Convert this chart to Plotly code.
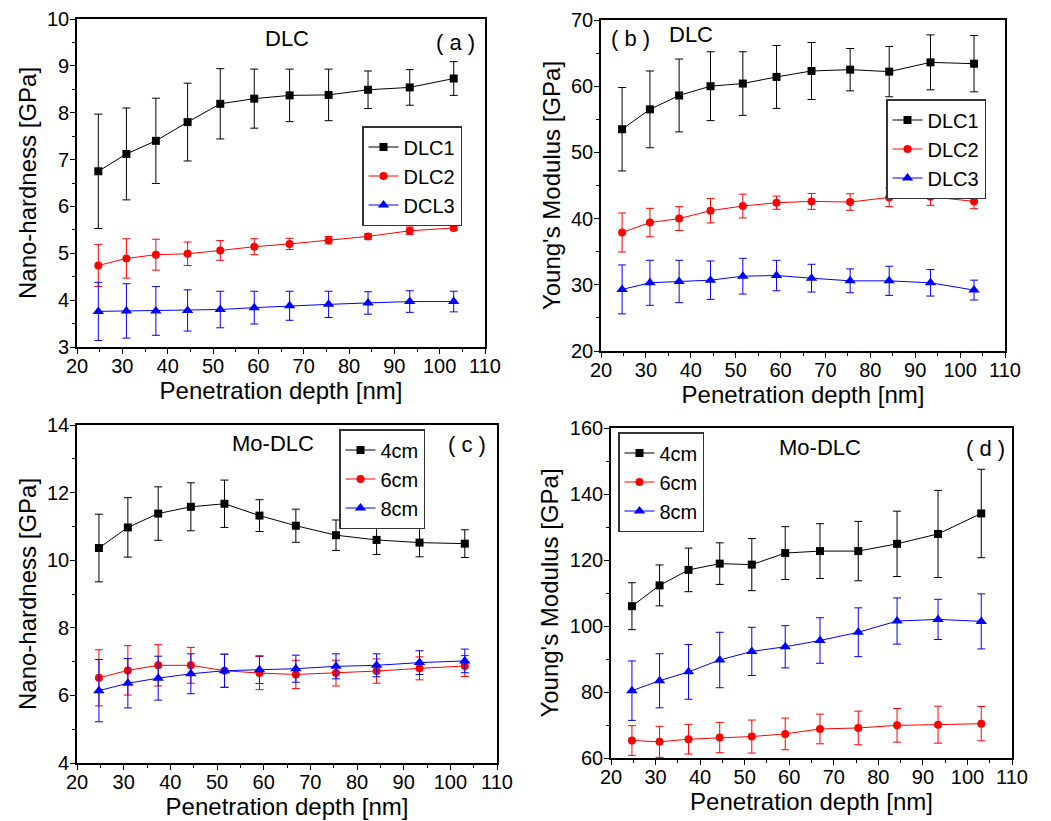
import plotly.graph_objects as go

depth = [24.7, 30.9, 37.4, 44.4, 51.6, 59.1, 66.9, 75.5, 84.2, 93.4, 103.1]

# Panel (a) Nano-hardness DLC
a_dlc1 = [6.75, 7.12, 7.40, 7.80, 8.19, 8.30, 8.37, 8.38, 8.49, 8.54, 8.73]
a_dlc1_err = [1.22, 0.98, 0.91, 0.83, 0.75, 0.63, 0.56, 0.55, 0.40, 0.38, 0.36]
a_dlc2 = [4.74, 4.89, 4.97, 4.99, 5.06, 5.14, 5.20, 5.28, 5.36, 5.48, 5.54]
a_dlc2_err = [0.45, 0.42, 0.33, 0.25, 0.21, 0.17, 0.12, 0.08, 0.06, 0.08, 0.05]
a_dcl3 = [3.76, 3.77, 3.77, 3.78, 3.80, 3.84, 3.88, 3.91, 3.94, 3.97, 3.97]
a_dcl3_err = [0.62, 0.58, 0.52, 0.44, 0.39, 0.35, 0.31, 0.28, 0.24, 0.23, 0.22]

# Panel (b) Young's modulus DLC
b_dlc1 = [53.5, 56.5, 58.6, 60.0, 60.4, 61.4, 62.3, 62.5, 62.2, 63.6, 63.4]
b_dlc1_err = [6.3, 5.8, 5.5, 5.2, 4.8, 4.75, 4.3, 3.2, 3.8, 4.15, 4.25]
b_dlc2 = [37.9, 39.4, 40.0, 41.2, 41.9, 42.4, 42.6, 42.5, 43.2, 43.3, 42.6]
b_dlc2_err = [2.95, 2.15, 1.8, 1.85, 1.8, 1.0, 1.2, 1.25, 1.4, 1.3, 1.1]
b_dlc3 = [29.3, 30.3, 30.5, 30.7, 31.3, 31.4, 31.0, 30.6, 30.6, 30.3, 29.2]
b_dlc3_err = [3.7, 3.4, 3.2, 2.9, 2.7, 2.3, 2.1, 1.8, 2.2, 2.0, 1.5]

# Panel (c) Nano-hardness Mo-DLC
c_4cm = [10.36, 10.97, 11.38, 11.58, 11.67, 11.32, 11.02, 10.74, 10.60, 10.52, 10.49]
c_4cm_err = [1.0, 0.88, 0.79, 0.71, 0.70, 0.47, 0.49, 0.45, 0.43, 0.42, 0.41]
c_6cm = [6.52, 6.74, 6.89, 6.89, 6.73, 6.66, 6.62, 6.66, 6.72, 6.80, 6.87]
c_6cm_err = [0.83, 0.73, 0.61, 0.53, 0.49, 0.49, 0.42, 0.38, 0.36, 0.34, 0.31]
c_8cm = [6.14, 6.36, 6.51, 6.64, 6.73, 6.76, 6.79, 6.86, 6.89, 6.97, 7.02]
c_8cm_err = [0.92, 0.73, 0.65, 0.59, 0.49, 0.41, 0.40, 0.37, 0.34, 0.35, 0.35]

# Panel (d) Young's modulus Mo-DLC
d_4cm = [106.0, 112.3, 117.0, 118.9, 118.6, 122.1, 122.7, 122.7, 124.9, 127.9, 134.1]
d_4cm_err = [7.1, 6.2, 6.6, 6.3, 7.9, 8.0, 8.3, 9.0, 9.9, 13.2, 13.4]
d_6cm = [65.3, 64.9, 65.7, 66.2, 66.5, 67.3, 68.8, 69.1, 69.9, 70.1, 70.4]
d_6cm_err = [4.5, 4.7, 4.5, 4.6, 5.0, 4.8, 4.5, 5.1, 5.1, 5.6, 5.2]
d_8cm = [80.4, 83.4, 86.1, 89.7, 92.3, 93.7, 95.6, 98.1, 101.5, 102.0, 101.4]
d_8cm_err = [9.0, 8.2, 8.3, 8.4, 7.3, 6.4, 6.9, 7.4, 7.0, 6.1, 8.35]

FONT = "Liberation Sans, Arial, sans-serif"
W, H = 1051, 821

BLACK, RED, BLUE = "#000000", "#FF0000", "#0000FF"
SYM = {BLACK: ("square", 8), RED: ("circle", 8), BLUE: ("triangle-up", 10)}

fig = go.Figure()


def add(y, err, name, color, k, legend):
    sym, size = SYM[color]
    fig.add_trace(go.Scatter(
        x=depth, y=y, name=name, mode="lines+markers",
        xaxis="x" if k == 1 else f"x{k}", yaxis="y" if k == 1 else f"y{k}",
        line=dict(color=color, width=1),
        marker=dict(symbol=sym, size=size, color=color),
        error_y=dict(type="data", array=err, visible=True, color=color, thickness=1, width=4),
        legend=legend,
    ))


add(a_dlc1, a_dlc1_err, "DLC1", BLACK, 1, "legend")
add(a_dlc2, a_dlc2_err, "DLC2", RED, 1, "legend")
add(a_dcl3, a_dcl3_err, "DCL3", BLUE, 1, "legend")
add(b_dlc1, b_dlc1_err, "DLC1", BLACK, 2, "legend2")
add(b_dlc2, b_dlc2_err, "DLC2", RED, 2, "legend2")
add(b_dlc3, b_dlc3_err, "DLC3", BLUE, 2, "legend2")
add(c_4cm, c_4cm_err, "4cm", BLACK, 3, "legend3")
add(c_6cm, c_6cm_err, "6cm", RED, 3, "legend3")
add(c_8cm, c_8cm_err, "8cm", BLUE, 3, "legend3")
add(d_4cm, d_4cm_err, "4cm", BLACK, 4, "legend4")
add(d_6cm, d_6cm_err, "6cm", RED, 4, "legend4")
add(d_8cm, d_8cm_err, "8cm", BLUE, 4, "legend4")

# pixel boxes of plot areas: (left, right, top, bottom)
boxes = {
    1: (77, 485, 19, 347),
    2: (601, 1005, 20, 351),
    3: (77, 497, 425, 763),
    4: (611, 1012, 428, 758),
}
yranges = {1: ([3, 10], 1, 0.5), 2: ([20, 70], 10, 5), 3: ([4, 14], 2, 1), 4: ([60, 160], 20, 10)}
ytitles = {1: "Nano-hardness [GPa]", 2: "Young's Modulus [GPa]", 3: "Nano-hardness [GPa]", 4: "Young's Modulus [GPa]"}

layout = dict(
    template="none",
    width=W, height=H, margin=dict(l=0, r=0, t=0, b=0, autoexpand=False),
    paper_bgcolor="white", plot_bgcolor="white",
    font=dict(family=FONT, color="black", size=20),
    showlegend=True,
)

for k, (l, r, t, b) in boxes.items():
    sx = "" if k == 1 else str(k)
    rng, dt, mdt = yranges[k]
    common = dict(
        showline=True, linecolor="black", linewidth=1.6, mirror=True,
        ticks="outside", ticklen=5, tickwidth=1.4, tickcolor="black",
        showgrid=False, zeroline=False, automargin=False,
        tickfont=dict(family=FONT, size=20, color="black"),
        minor=dict(ticks="outside", ticklen=3, tickwidth=1.2, tickcolor="black", showgrid=False),
    )
    layout["xaxis" + sx] = dict(
        common, domain=[l / W, r / W], range=[20, 110], dtick=10, tick0=20,
        anchor="y" + sx, ticklabelstandoff=-5,
        title=dict(text="Penetration depth [nm]", font=dict(family=FONT, size=24), standoff=4),
    )
    layout["xaxis" + sx]["minor"] = dict(common["minor"], dtick=5)
    layout["yaxis" + sx] = dict(
        common, domain=[(H - b) / H, (H - t) / H], range=rng, dtick=dt, tick0=rng[0],
        anchor="x" + sx, ticklabelstandoff=-3,
        title=dict(text=ytitles[k], font=dict(family=FONT, size=24), standoff=4),
    )
    layout["yaxis" + sx]["minor"] = dict(common["minor"], dtick=mdt)

legend_pos = {
    "legend": (362, 126, 73),
    "legend2": (886, 99, 71),
    "legend3": (339, 429, 54),
    "legend4": (618, 432, 50),
}
for name, (px, py, ew) in legend_pos.items():
    layout[name] = dict(
        x=px / W, y=(H - py) / H, xanchor="left", yanchor="top",
        xref="paper", yref="paper",
        bgcolor="white", bordercolor="#333333", borderwidth=1.5,
        font=dict(family=FONT, size=20, color="black"),
        tracegroupgap=0, itemwidth=30, entrywidth=ew, entrywidthmode="pixels",
    )

annots = [
    ("DLC", 287, 38), ("( a )", 455, 43),
    ("( b )", 630, 38), ("DLC", 691, 34),
    ("Mo-DLC", 273, 443), ("( c )", 467, 445),
    ("Mo-DLC", 820, 447), ("( d )", 985, 448),
]
layout["annotations"] = [
    dict(text=t, x=x / W, y=(H - y) / H, xref="paper", yref="paper",
         xanchor="center", yanchor="middle", showarrow=False,
         font=dict(family=FONT, size=22, color="black"))
    for t, x, y in annots
]

fig.update_layout(**layout)
fig.write_html(
    "out.html",
    config={"displayModeBar": False},
    post_script="document.body.style.margin='0';document.body.style.padding='0';document.body.style.overflow='hidden';",
)
